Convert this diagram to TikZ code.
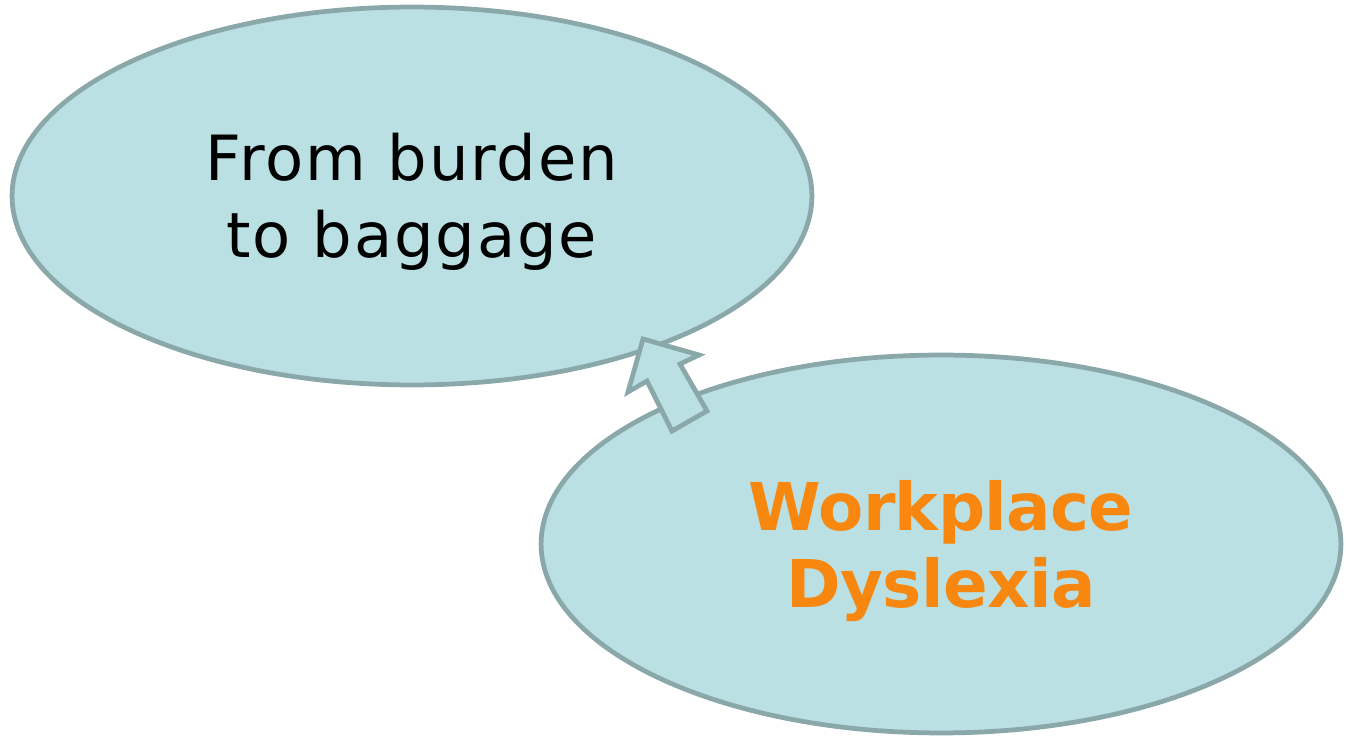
\documentclass[tikz,border=0pt]{standalone}
\usepackage{fontspec}
\setmainfont{DejaVu Sans}
\newfontfamily\wideface[LetterSpace=3]{DejaVu Sans}
\newfontfamily\boldface[LetterSpace=-1]{DejaVu Sans Bold}
\usepackage{tikz}
\usetikzlibrary{shapes.geometric}
\definecolor{bubblefill}{HTML}{BAE0E3}
\definecolor{bubbleline}{HTML}{8AA8AA}
\definecolor{dysorange}{HTML}{F7870F}
\tikzset{
  bubble/.style={ellipse, draw=bubbleline, fill=bubblefill, line width=2.7pt,
    minimum width=16cm, minimum height=7.56cm, align=center, inner sep=0pt},
  blockarrow/.style={draw=bubbleline, fill=bubblefill, line width=2.7pt, line join=miter}
}

\begin{document}
\begin{tikzpicture}[x=0.02cm, y=-0.02cm]
        % picture frame
        \useasboundingbox (0,0) rectangle (1346,742);

        % 1. The two ellipses
        \node[bubble] (burden) at (412,196) {};
        \node[bubble] (workplace) at (941,544) {};

        % 2. Their texts
        \node[align=center, font=\wideface\fontsize{35.5}{43.7}\selectfont] (burdentext)
          at ([yshift=-0.12cm]burden.center) {From burden\\to baggage};
        \node[align=center, text=dysorange, font=\boldface\fontsize{37.5}{44}\selectfont] (worktext)
          at ([yshift=-0.14cm]workplace.center) {Workplace\\Dyslexia};

        % 3. Block arrow from workplace up to burden
        \coordinate (tip) at (643,339);
        \draw[blockarrow] (tip) -- (699,355) -- (680,364) -- (707,411)
          -- (672,431) -- (647,381) -- (628,392) -- cycle;
    \end{tikzpicture}
\end{document}
